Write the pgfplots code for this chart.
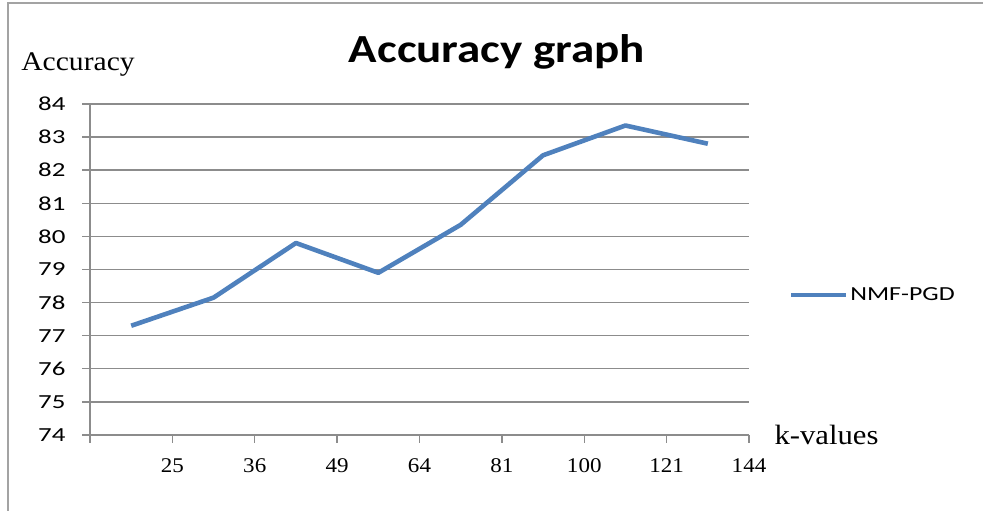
\documentclass[border=0pt]{standalone}
\usepackage{pgfplots}
\pgfplotsset{compat=1.18}
\usepackage{fontspec}
\setmainfont{Liberation Serif}
\newfontfamily\serifwide[FakeStretch=1.1]{Liberation Serif}
\newfontfamily\sansfont[FakeStretch=1.35]{Carlito}
\newfontfamily\legfont[FakeStretch=1.3]{Carlito}
\newfontfamily\titlefont[FakeStretch=1.18]{Carlito}
\definecolor{linec}{HTML}{4F81BD}
\definecolor{gridc}{HTML}{8C8C8C}
\begin{document}
\begin{tikzpicture}[x=1bp,y=1bp]
\useasboundingbox (0,0) rectangle (983,511);
\draw[gridc!80, line width=1.5bp] (8,0) -- (8,508) -- (983,508);
\begin{axis}[at={(90bp,76bp)}, anchor=south west, scale only axis,
  width=659bp, height=331bp,
  xmin=0, xmax=8, ymin=74, ymax=84,
  xtick={0,...,8}, xticklabels={,25,36,49,64,81,100,121,144},
  ytick={74,...,84},
  axis x line*=bottom, axis y line*=left,
  axis line style={gridc, line width=1.6bp, -},
  ymajorgrids, grid style={gridc, line width=1.4bp},
  tick align=outside, major tick length=8bp,
  tick style={gridc, line width=1.4bp},
  /pgf/number format/assume math mode=true,
  yticklabel style={font=\sansfont\fontsize{20}{20}\selectfont, text=black, xshift=-13bp},
  xticklabel style={font=\serifwide\fontsize{21}{21}\selectfont, text=black, yshift=-12bp},
  legend style={draw=none, at={(1.06,0.423)}, anchor=west, font=\legfont\fontsize{20}{20}\selectfont, inner sep=0pt},
  legend image code/.code={\draw[#1] (0bp,0bp) -- (55bp,0bp);},
]
\addplot[linec, line width=4.6bp, line join=round] coordinates {
(0.5,77.3) (1.5,78.15) (2.5,79.8) (3.5,78.9) (4.5,80.35) (5.5,82.45) (6.5,83.35) (7.5,82.8)
};
\legend{NMF-PGD}
\end{axis}
\node at (497,459) {\titlefont\bfseries\fontsize{40}{40}\selectfont Accuracy graph};
\node at (78,446) {\serifwide\fontsize{27}{27}\selectfont Accuracy};
\node[anchor=west] at (771,76) {\serifwide\fontsize{28}{28}\selectfont k-values};
\end{tikzpicture}
\end{document}
